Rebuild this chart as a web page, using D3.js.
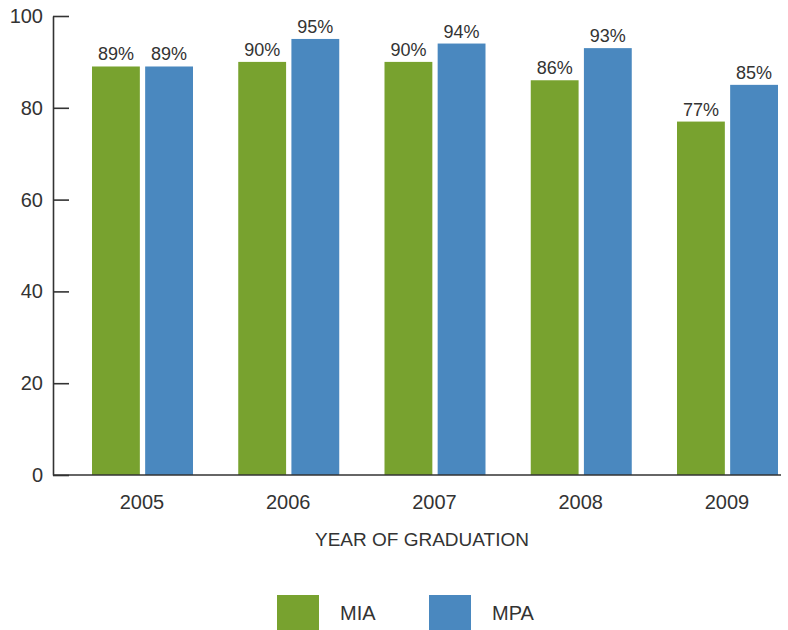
<!DOCTYPE html>
<html>
  <head>
    <title>Graduation</title>
    <script src="https://cdn.jsdelivr.net/npm/d3@7/dist/d3.min.js"></script>
    <style>
      body { margin: 0; background: #fff; }
      text { font-family: "Liberation Sans", Arial, sans-serif; fill: #333; }
    </style>
  </head>
  <body>
    <svg width="788" height="630" id="mainsvg"></svg>
    <script>
      const years = ['2005', '2006', '2007', '2008', '2009'];
      const series = ['MIA', 'MPA'];
      const miaValues = [89, 90, 90, 86, 77];
      const mpaValues = [89, 95, 94, 93, 85];
      const yTicks = [0, 20, 40, 60, 80, 100];
      const colors = {MIA: '#78a22f', MPA: '#4a88bf'};

      const svg = d3.select('#mainsvg');
      const axisX = 53, plotTop = 16, plotBottom = 475;

      const yScale = d3.scaleLinear().domain([0, 100]).range([plotBottom, plotTop]);
      const xScale = d3.scalePoint().domain(years).range([142, 727]);
      const inner = d3.scaleBand().domain(series).range([-50, 51]).paddingInner(0.1);

      const data = years.map((y, i) => ({year: y, MIA: miaValues[i], MPA: mpaValues[i]}));

      // bars
      const groups = svg.append('g').selectAll('g').data(data).join('g')
        .attr('transform', d => `translate(${xScale(d.year)},0)`);

      groups.selectAll('rect')
        .data(d => series.map(k => ({key: k, value: d[k]})))
        .join('rect')
        .attr('x', d => inner(d.key))
        .attr('width', inner.bandwidth())
        .attr('y', d => yScale(d.value))
        .attr('height', d => plotBottom - yScale(d.value))
        .attr('fill', d => colors[d.key]);

      groups.selectAll('text.lbl')
        .data(d => series.map(k => ({key: k, value: d[k]})))
        .join('text')
        .attr('class', 'lbl')
        .attr('x', d => inner(d.key) + inner.bandwidth() / 2)
        .attr('y', d => yScale(d.value) - 6)
        .attr('text-anchor', 'middle')
        .attr('font-size', 18)
        .text(d => d.value + '%');

      // y axis
      const yAxis = d3.axisLeft(yScale).tickValues(yTicks).tickSize(-16).tickSizeOuter(0).tickPadding(10);
      const yg = svg.append('g').attr('transform', `translate(${axisX},0)`).call(yAxis);
      yg.selectAll('path, line').attr('stroke', '#333').attr('stroke-width', 1.6);
      yg.selectAll('text').attr('font-size', 20).attr('font-family', '"Liberation Sans", Arial, sans-serif').attr('fill', '#333');

      // x axis line
      svg.append('line')
        .attr('x1', axisX).attr('x2', 781)
        .attr('y1', plotBottom).attr('y2', plotBottom)
        .attr('stroke', '#333').attr('stroke-width', 1.6);

      svg.append('g').selectAll('text').data(years).join('text')
        .attr('x', d => xScale(d))
        .attr('y', 509)
        .attr('text-anchor', 'middle')
        .attr('font-size', 20)
        .text(d => d);

      svg.append('text')
        .attr('x', 422).attr('y', 546)
        .attr('text-anchor', 'middle')
        .attr('font-size', 19)
        .text('YEAR OF GRADUATION');

      // legend
      const legendX = d3.scalePoint().domain(series).range([277, 429]);
      const lg = svg.append('g').selectAll('g').data(series).join('g')
        .attr('transform', d => `translate(${legendX(d)},595)`);
      lg.append('rect').attr('width', 42).attr('height', 35).attr('fill', d => colors[d]);
      lg.append('text').attr('x', 63).attr('y', 25).attr('font-size', 20).text(d => d);
    </script>
  </body>
</html>
